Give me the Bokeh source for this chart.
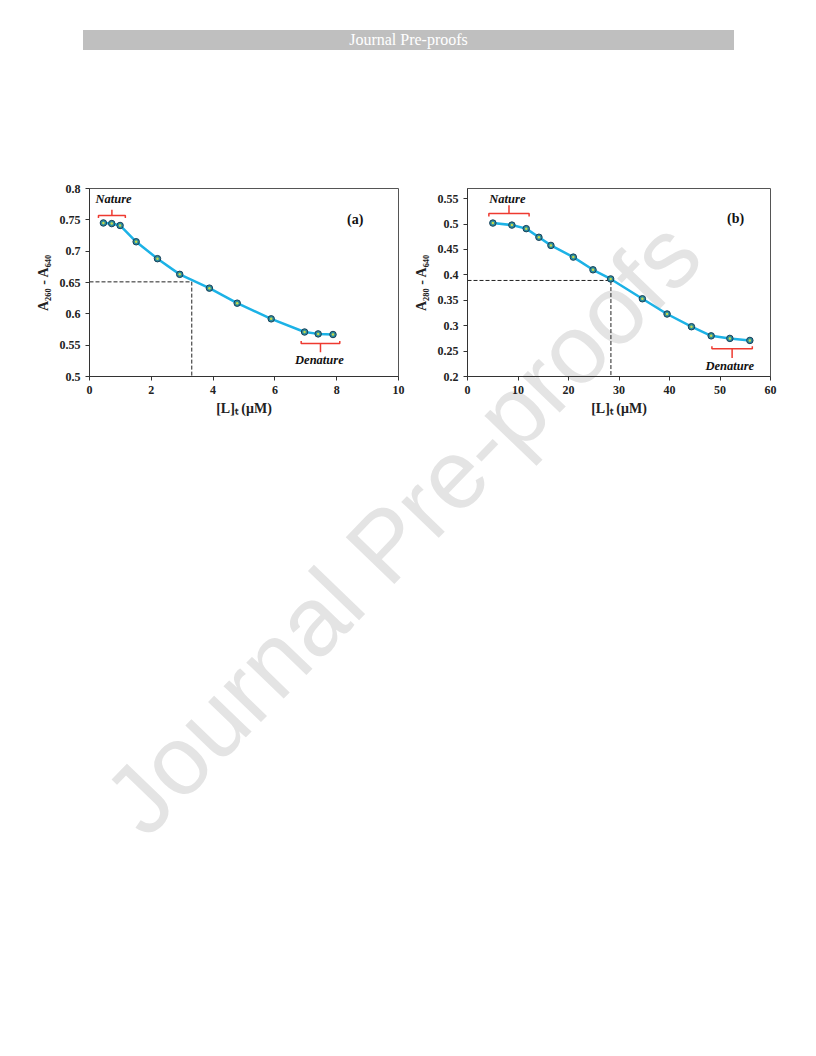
from bokeh.plotting import figure
from bokeh.layouts import column, row
from bokeh.models import Div, Spacer, Range1d, FixedTicker
from bokeh.embed import file_html
from bokeh.resources import INLINE
from bokeh.core.properties import value

# ---------------- data ----------------
# panel (a)
a_x = [0.45, 0.72, 0.99, 1.51, 2.20, 2.92, 3.88, 4.78, 5.88, 6.96, 7.40, 7.88]
a_y = [0.745, 0.744, 0.741, 0.715, 0.688, 0.663, 0.641, 0.617, 0.592, 0.571, 0.568, 0.567]
a_mid_x = 3.31
a_mid_y = 0.651
a_xticks = [0, 2, 4, 6, 8, 10]
a_xlabels = ["0", "2", "4", "6", "8", "10"]
a_yticks = [0.5, 0.55, 0.6, 0.65, 0.7, 0.75, 0.8]
a_ylabels = ["0.5", "0.55", "0.6", "0.65", "0.7", "0.75", "0.8"]

# panel (b)
b_x = [5.02, 8.79, 11.63, 14.14, 16.52, 20.95, 24.85, 28.35, 34.63, 39.52, 44.35, 48.25, 51.95, 55.91]
b_y = [0.502, 0.498, 0.491, 0.474, 0.458, 0.435, 0.410, 0.392, 0.353, 0.323, 0.298, 0.280, 0.275, 0.271]
b_mid_x = 28.4
b_mid_y = 0.389
b_xticks = [0, 10, 20, 30, 40, 50, 60]
b_xlabels = ["0", "10", "20", "30", "40", "50", "60"]
b_yticks = [0.2, 0.25, 0.3, 0.35, 0.4, 0.45, 0.5, 0.55]
b_ylabels = ["0.2", "0.25", "0.3", "0.35", "0.4", "0.45", "0.5", "0.55"]

LINE_C = "#1cb2e6"
RED = "#ee3a30"
SERIF = "Liberation Serif"


def make_panel(xs, ys, mx, my, xr, yr, xt, xl, yt, yl, ylabel, tag, tag_xy,
               nat, den, bl, br, width):
    p = figure(width=width, height=243, output_backend="svg", toolbar_location=None,
               x_range=Range1d(*xr), y_range=Range1d(*yr),
               min_border_left=bl, min_border_right=br, min_border_top=10,
               min_border_bottom=45)
    p.background_fill_alpha = 0
    p.border_fill_alpha = 0
    p.outline_line_color = "#555555"
    p.outline_line_width = 1
    p.grid.visible = False
    for ax, ticks, labels in ((p.xaxis[0], xt, xl), (p.yaxis[0], yt, yl)):
        ax.ticker = FixedTicker(ticks=ticks)
        ax.major_label_overrides = {t: s for t, s in zip(ticks, labels)}
        ax.minor_tick_line_color = None
        ax.major_tick_in = 0
        ax.major_tick_out = 4
        ax.axis_line_color = "#333333"
        ax.major_tick_line_color = "#333333"
        ax.major_label_text_font = SERIF
        ax.major_label_text_font_style = "bold"
        ax.major_label_text_font_size = "12px"
        ax.major_label_text_color = "#222222"
        ax.axis_label_text_font = SERIF
        ax.axis_label_text_font_style = "bold"
        ax.axis_label_text_font_size = "14px"
        ax.axis_label_text_color = "#222222"
    p.xaxis[0].axis_label = "[L]ₜ (μM)"
    p.yaxis[0].axis_label = ylabel
    p.xaxis[0].axis_label_standoff = 4
    p.yaxis[0].axis_label_standoff = 6

    # dashed guide lines
    p.line([xr[0], mx, mx], [my, my, yr[0]], line_color="#222222",
           line_dash="4 2", line_width=1)

    # data
    p.line(xs, ys, line_color=LINE_C, line_width=2.5)
    p.scatter(xs, ys, size=6.5, fill_color="#2c8e9e", line_color="#17405a",
              line_width=1)
    p.scatter(xs, ys, size=2.5, fill_color="#c9d94a", line_color=None)

    # brackets
    (nx0, nx1, ny, nd, nh, ntx, nty) = nat
    nxm = (nx0 + nx1) / 2
    p.line([nx0, nx0, nx1, nx1], [ny - nd, ny, ny, ny - nd], line_color=RED, line_width=1.5)
    p.line([nxm, nxm], [ny, ny + nh], line_color=RED, line_width=1.5)
    p.text([ntx], [nty], text=["Nature"], text_font=value(SERIF),
           text_font_style="bold italic", text_font_size="12.5px",
           text_align="center", text_baseline="middle", text_color="#111111")

    (dx0, dx1, dy, dd, dh, dtx, dty) = den
    dxm = (dx0 + dx1) / 2
    p.line([dx0, dx0, dx1, dx1], [dy + dd, dy, dy, dy + dd], line_color=RED, line_width=1.5)
    p.line([dxm, dxm], [dy, dy - dh], line_color=RED, line_width=1.5)
    p.text([dtx], [dty], text=["Denature"], text_font=value(SERIF),
           text_font_style="bold italic", text_font_size="12.5px",
           text_align="center", text_baseline="middle", text_color="#111111")

    p.text([tag_xy[0]], [tag_xy[1]], text=[tag], text_font=value(SERIF),
           text_font_style="bold", text_font_size="14px",
           text_align="center", text_baseline="middle", text_color="#111111")
    return p


pa = make_panel(a_x, a_y, a_mid_x, a_mid_y, (0, 10), (0.5, 0.8),
                a_xticks, a_xlabels, a_yticks, a_ylabels,
                "A₂₆₀ - A₆₄₀", "(a)", (8.6, 0.751),
                (0.29, 1.16, 0.757, 0.004, 0.009, 0.78, 0.783),
                (6.85, 8.10, 0.5527, 0.004, 0.014, 7.44, 0.526),
                59, 12, 380)

pb = make_panel(b_x, b_y, b_mid_x, b_mid_y, (0, 60), (0.2, 0.57),
                b_xticks, b_xlabels, b_yticks, b_ylabels,
                "A₂₈₀ - A₆₄₀", "(b)", (53.1, 0.51),
                (4.23, 12.2, 0.521, 0.006, 0.016, 7.9, 0.549),
                (48.4, 56.4, 0.2546, 0.005, 0.018, 51.95, 0.221),
                57, 10, 370)

banner = Div(text='<div style="width:651px;height:20px;background:#bfbfbf;color:#ffffff;'
                  'font-family:\'Liberation Serif\';font-size:16px;line-height:20px;'
                  'text-align:center;">Journal Pre-proofs</div>',
             width=651, height=20)

watermark = Div(text='<div style="position:absolute;left:397px;top:522px;'
                     'transform:translate(-50%,-50%) rotate(-46deg);'
                     'font-family:\'Liberation Sans\';font-size:98px;color:#e4e4e4;'
                     'white-space:nowrap;pointer-events:none;">Journal Pre-proofs</div>',
                width=1, height=1,
                styles={"position": "absolute", "left": "0px", "top": "0px",
                        "z-index": "0", "overflow": "visible"})

page = column(
    watermark,
    Spacer(height=25),
    row(Spacer(width=78), banner),
    Spacer(height=123),
    row(Spacer(width=30), pa, pb),
)

open("out.html", "w").write(file_html(page, INLINE))
